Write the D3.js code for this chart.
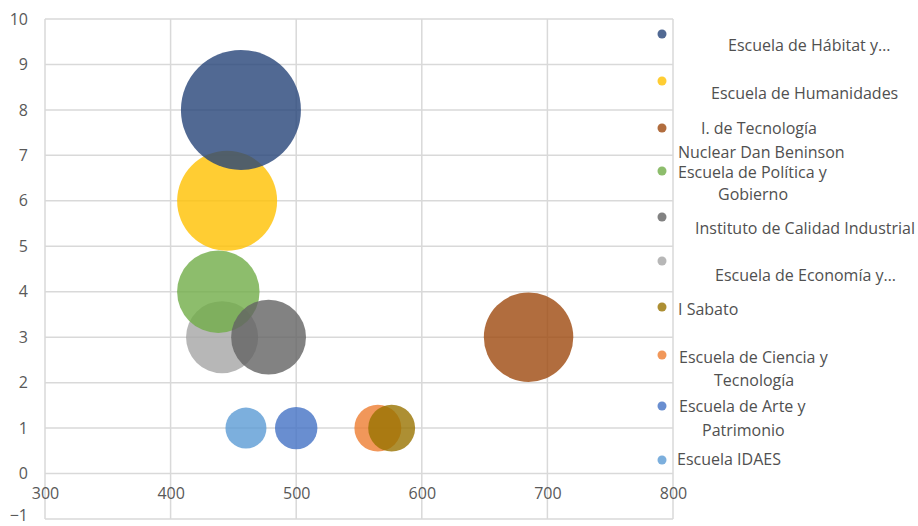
<!DOCTYPE html>
<html>
<head>
<meta charset="utf-8">
<script src="https://cdn.jsdelivr.net/npm/d3@7"></script>
<style>
  html, body { margin: 0; padding: 0; background: #fff; }
  svg { display: block; }
</style>
</head>
<body>
<svg id="chart" width="918" height="526"></svg>
<script>
// ---- data (Excel series order) ----
const series = [
  "Escuela de Arte y Patrimonio",
  "Escuela de Ciencia y Tecnología",
  "Escuela de Economía y…",
  "Escuela de Humanidades",
  "Escuela IDAES",
  "Escuela de Política y Gobierno",
  "Escuela de Hábitat y…",
  "I. de Tecnología Nuclear Dan Beninson",
  "Instituto de Calidad Industrial",
  "I Sabato"
];
const xValues = [500, 565, 441, 445, 460, 438, 456, 685, 478, 576];
const yValues = [1, 1, 3, 6, 1, 4, 8, 3, 3, 1];
const sizeValues = [4.5, 5.5, 13, 25, 4.2, 17, 36, 20, 14, 5.5];
const xTicks = [300, 400, 500, 600, 700, 800];
const yTicks = [-1, 0, 1, 2, 3, 4, 5, 6, 7, 8, 9, 10];

// legend order (indices into series) and wrapped legend lines
const legendOrder = [6, 3, 7, 5, 8, 2, 9, 1, 0, 4];
const legendLines = [
  ["Escuela de Hábitat y…"],
  ["Escuela de Humanidades"],
  ["I. de Tecnología", "Nuclear Dan Beninson"],
  ["Escuela de Política y", "Gobierno"],
  ["Instituto de Calidad Industrial"],
  ["Escuela de Economía y…"],
  ["I Sabato"],
  ["Escuela de Ciencia y", "Tecnología"],
  ["Escuela de Arte y", "Patrimonio"],
  ["Escuela IDAES"]
];

// ---- styles / layout ----
const colors = ["#4472C4", "#ED7D31", "#A5A5A5", "#FFC000", "#5B9BD5",
                "#70AD47", "#264478", "#9E480E", "#636363", "#997300"];
const plot = { left: 45, right: 673, top: 19, bottom: 519 };
// legend layout: marker centre y, and per line [x start, y centre]
const legendMarkerY = [34, 81, 128, 171, 217, 261, 307, 355, 406, 460];
const legendTextPos = [
  [[728, 45]],
  [[711, 93]],
  [[701, 128.5], [678, 152.5]],
  [[678, 172.5], [718, 194.5]],
  [[695, 228]],
  [[715, 275]],
  [[678, 309]],
  [[679, 357], [714, 380]],
  [[679, 406], [702, 430]],
  [[677, 459.5]]
];

const svg = d3.select("#chart");
const font = "'Open Sans', sans-serif";

const x = d3.scaleLinear().domain([300, 800]).range([plot.left, plot.right]);
const y = d3.scaleLinear().domain([-1, 10]).range([plot.bottom, plot.top]);
const r = d3.scaleSqrt().domain([0, 36]).range([0, 60]);

// gridlines
const grid = svg.append("g").attr("stroke", "#d9d9d9").attr("stroke-width", 1.5);
grid.selectAll("line.h").data(yTicks).join("line")
  .attr("x1", plot.left).attr("x2", plot.right)
  .attr("y1", d => y(d)).attr("y2", d => y(d));
grid.selectAll("line.v").data(xTicks).join("line")
  .attr("y1", plot.top).attr("y2", plot.bottom)
  .attr("x1", d => x(d)).attr("x2", d => x(d));

// y axis labels
const yAxis = d3.axisLeft(y).tickValues(yTicks).tickSize(0).tickPadding(0);
const yg = svg.append("g").attr("transform", `translate(${plot.left - 17},0)`).call(yAxis);
yg.select(".domain").remove();
yg.selectAll("text").attr("font-family", font).attr("font-size", 16).attr("fill", "#595959");
// keep the bottom label inside the picture
yg.selectAll(".tick").filter(d => d === -1).select("text").attr("dy", "0.1em");

// x axis labels (below the y=0 line)
const xAxis = d3.axisBottom(x).tickValues(xTicks).tickSize(0).tickPadding(0);
const xg = svg.append("g").attr("transform", `translate(0,${y(0) + 14})`).call(xAxis);
xg.select(".domain").remove();
xg.selectAll("text").attr("font-family", font).attr("font-size", 16).attr("fill", "#595959");

// bubbles
const data = series.map((s, i) => ({ name: s, x: xValues[i], y: yValues[i], size: sizeValues[i], color: colors[i] }));
svg.append("g").selectAll("circle").data(data).join("circle")
  .attr("cx", d => x(d.x)).attr("cy", d => y(d.y)).attr("r", d => r(d.size))
  .attr("fill", d => d.color).attr("fill-opacity", 0.8);

// legend
const lg = svg.append("g");
legendOrder.forEach((si, k) => {
  lg.append("circle").attr("cx", 662).attr("cy", legendMarkerY[k]).attr("r", 4.5)
    .attr("fill", colors[si]).attr("fill-opacity", 0.8);
  legendLines[k].forEach((line, j) => {
    const p = legendTextPos[k][j];
    lg.append("text").attr("x", p[0]).attr("y", p[1]).attr("dy", "0.35em")
      .attr("font-family", font).attr("font-size", 16).attr("fill", "#505050")
      .text(line);
  });
});
</script>
</body>
</html>
